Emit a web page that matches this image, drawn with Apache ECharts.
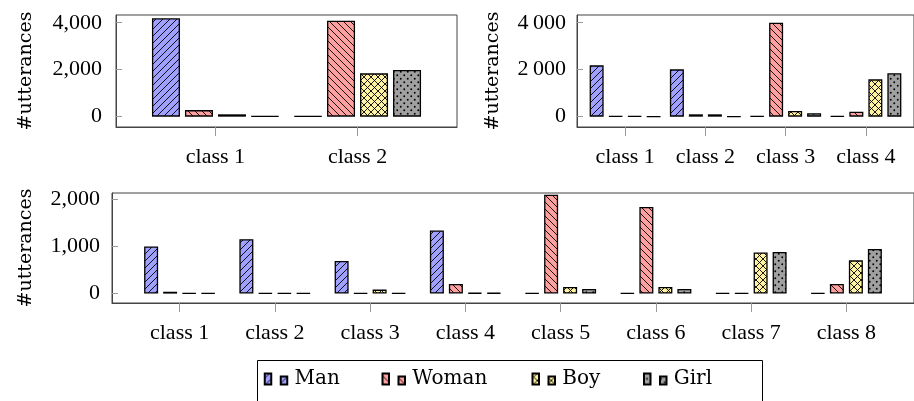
<!DOCTYPE html>
<html><head><meta charset="utf-8">
<script src="https://cdn.jsdelivr.net/npm/echarts@6/dist/echarts.min.js"></script>
<style>html,body{margin:0;padding:0;background:#fff}#c{width:914px;height:401px}</style>
</head><body><div id="c"></div>
<script>
// ---- data ----
const seriesNames = ['Man', 'Woman', 'Boy', 'Girl'];

const catsA = ['class 1', 'class 2'];
const manA   = [4190, 20];
const womanA = [280, 4085];
const boyA   = [100, 1845];
const girlA  = [20, 1985];

const catsB = ['class 1', 'class 2', 'class 3', 'class 4'];
const manB   = [2185, 2015, 20, 20];
const womanB = [20, 100, 4005, 210];
const boyB   = [20, 100, 240, 1590];
const girlB  = [10, 10, 145, 1850];

const catsC = ['class 1', 'class 2', 'class 3', 'class 4', 'class 5', 'class 6', 'class 7', 'class 8'];
const manC   = [1005, 1160, 695, 1345, 10, 10, 10, 10];
const womanC = [40, 10, 10, 205, 2105, 1845, 10, 205];
const boyC   = [10, 10, 85, 15, 140, 140, 878, 708];
const girlC  = [10, 10, 10, 15, 100, 100, 885, 950];

const yTicksA = [0, 2000, 4000];
const yTicksB = [0, 2000, 4000];
const yTicksC = [0, 1000, 2000];

// ---- patterns ----
function tile(bg, draw) {
  const c = document.createElement('canvas');
  c.width = 7; c.height = 7;
  const g = c.getContext('2d');
  g.fillStyle = bg; g.fillRect(0, 0, 7, 7);
  g.strokeStyle = '#000'; g.fillStyle = '#000'; g.lineWidth = 0.9;
  draw(g);
  return c;
}
function ne(g) { g.beginPath(); g.moveTo(-1, 8); g.lineTo(8, -1); g.moveTo(-1, 1); g.lineTo(1, -1); g.moveTo(6, 8); g.lineTo(8, 6); g.stroke(); }
function nw(g) { g.beginPath(); g.moveTo(-1, -1); g.lineTo(8, 8); g.moveTo(-1, 6); g.lineTo(1, 8); g.moveTo(6, -1); g.lineTo(8, 1); g.stroke(); }
const patMan = tile('#a0a0ff', ne);
const patWoman = tile('#ffa0a0', nw);
const patBoy = tile('#fff2a0', g => { ne(g); nw(g); });
const patGirl = tile('#a0a0a0', g => {
  g.beginPath(); g.arc(1.75, 1.75, 0.95, 0, Math.PI * 2); g.fill();
  g.beginPath(); g.arc(5.25, 5.25, 0.95, 0, Math.PI * 2); g.fill();
});
const pats = [patMan, patWoman, patBoy, patGirl];

// ---- chart ----
const FONT = '"Liberation Serif", "Times New Roman", serif';
const FONT2 = 'DejaVu Serif';
const FS = 22;
const axisColor = '#444';
const txt = { fontFamily: FONT, fontSize: FS, color: '#000' };

const panels = [
  { cats: catsA, vals: [manA, womanA, boyA, girlA], ticks: yTicksA, sep: ',',
    grid: { left: 116, top: 15, width: 341, height: 112 }, xmin: 0.3, xmax: 2.7,
    ymin: -440, ymax: 4330, bw: 28, nameGap: 80, labelMargin: 14 },
  { cats: catsB, vals: [manB, womanB, boyB, girlB], ticks: yTicksB, sep: '\u2009',
    grid: { left: 577, top: 15, width: 342, height: 112 }, xmin: 0.4, xmax: 4.6,
    ymin: -440, ymax: 4330, bw: 14, nameGap: 74, labelMargin: 11 },
  { cats: catsC, vals: [manC, womanC, boyC, girlC], ticks: yTicksC, sep: ',',
    grid: { left: 112, top: 193, width: 803, height: 110 }, xmin: 0.29, xmax: 8.71,
    ymin: -200, ymax: 2143, bw: 14, nameGap: 76, labelMargin: 12 }
];

function fmt(v, sep) {
  const s = String(v);
  return s.length > 3 ? s.slice(0, s.length - 3) + sep + s.slice(s.length - 3) : s;
}

const grids = [], xAxes = [], yAxes = [], series = [];
panels.forEach((p, gi) => {
  grids.push(Object.assign({ show: true, borderColor: axisColor, borderWidth: 1, backgroundColor: 'transparent' }, p.grid));
  const xt = p.cats.map((c, i) => i + 1);
  xAxes.push({
    type: 'value', gridIndex: gi, min: p.xmin, max: p.xmax,
    axisLine: { show: true, onZero: false, lineStyle: { color: axisColor, width: 1 } },
    axisTick: { show: true, inside: false, length: 9, customValues: xt, lineStyle: { color: '#999' } },
    axisLabel: Object.assign({ customValues: xt, formatter: v => p.cats[Math.round(v) - 1], margin: 19 }, txt),
    splitLine: { show: false }
  });
  yAxes.push({
    type: 'value', gridIndex: gi, min: p.ymin, max: p.ymax,
    name: '#utterances', nameLocation: 'middle', nameRotate: 90, nameGap: p.nameGap,
    nameTextStyle: { fontFamily: FONT2, fontSize: 19, color: '#000' },
    axisLine: { show: true, onZero: false, lineStyle: { color: axisColor, width: 1 } },
    axisTick: { show: true, inside: true, length: 6, customValues: p.ticks, lineStyle: { color: '#999' } },
    axisLabel: Object.assign({ customValues: p.ticks, formatter: v => fmt(v, p.sep), margin: p.labelMargin }, txt),
    splitLine: { show: false }
  });
  seriesNames.forEach((n, si) => {
    series.push({
      type: 'bar', name: n, xAxisIndex: gi, yAxisIndex: gi,
      data: p.vals[si].map((v, i) => [i + 1, v]),
      barWidth: p.bw, barGap: (5 / p.bw * 100).toFixed(2) + '%',
      itemStyle: { color: { image: pats[si], repeat: 'repeat' }, borderColor: '#000', borderWidth: 1.3 },
      silent: true, emphasis: { disabled: true }
    });
  });
});

const legendLefts = [263.75, 381.5, 531.5, 643];
const legendIcon = 'path://M0,0L6.5,0L6.5,11L0,11Z M16,3L22.5,3L22.5,11L16,11Z';
const legends = seriesNames.map((n, i) => ({
  data: [n], left: legendLefts[i], top: 369, padding: 0,
  itemWidth: 27, itemHeight: 11, icon: legendIcon, selectedMode: false,
  textStyle: { fontFamily: FONT2, fontSize: 20, color: '#000', padding: [3, 0, 0, 0] }
}));

const chart = echarts.init(document.getElementById('c'), null, { renderer: 'canvas' });
chart.setOption({
  animation: false,
  grid: grids, xAxis: xAxes, yAxis: yAxes, series: series,
  legend: legends,
  graphic: [{ type: 'rect', silent: true, shape: { x: 257.5, y: 360.5, width: 505, height: 60 },
    style: { fill: 'none', stroke: '#000', lineWidth: 1 } }]
});
</script></body></html>
